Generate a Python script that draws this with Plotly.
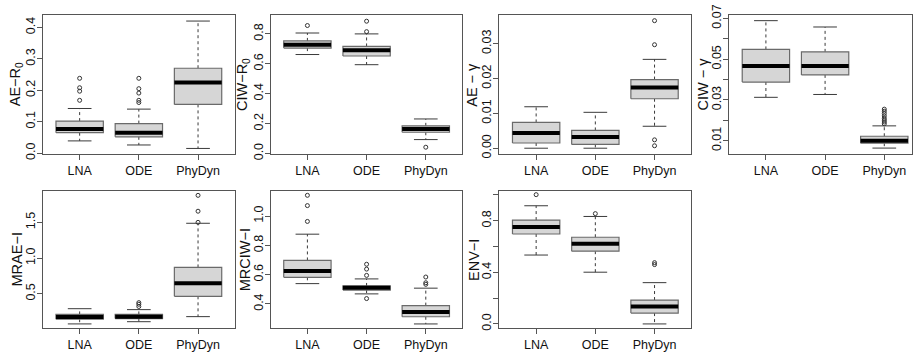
import plotly.graph_objects as go

methods = ["LNA", "ODE", "PhyDyn"]

# Five-number summaries per method (LNA, ODE, PhyDyn): lower whisker, Q1, median, Q3, upper whisker
ae_r0_lo = [0.039, 0.026, 0.015]
ae_r0_q1 = [0.065, 0.052, 0.155]
ae_r0_med = [0.077, 0.065, 0.225]
ae_r0_q3 = [0.102, 0.094, 0.270]
ae_r0_hi = [0.142, 0.140, 0.420]
ae_r0_out = [[0.168, 0.197, 0.208, 0.238], [0.161, 0.168, 0.191, 0.205, 0.238], []]

ciw_r0_lo = [0.662, 0.594, 0.093]
ciw_r0_q1 = [0.705, 0.652, 0.142]
ciw_r0_med = [0.727, 0.690, 0.163]
ciw_r0_q3 = [0.753, 0.716, 0.185]
ciw_r0_hi = [0.806, 0.800, 0.231]
ciw_r0_out = [[0.856], [0.815, 0.885], [0.042]]

ae_g_lo = [0.0000, 0.0000, 0.0063]
ae_g_q1 = [0.0015, 0.0011, 0.0142]
ae_g_med = [0.0044, 0.0032, 0.0174]
ae_g_q3 = [0.0074, 0.0051, 0.0197]
ae_g_hi = [0.0119, 0.0103, 0.0255]
ae_g_out = [[], [], [0.0007, 0.0024, 0.0297, 0.0366]]

ciw_g_lo = [0.0313, 0.0327, 0.0064]
ciw_g_q1 = [0.0388, 0.0423, 0.0088]
ciw_g_med = [0.0467, 0.0467, 0.0100]
ciw_g_q3 = [0.0548, 0.0536, 0.0122]
ciw_g_hi = [0.0689, 0.0658, 0.0173]
ciw_g_out = [[], [], [0.0183, 0.0192, 0.0201, 0.0210, 0.0222, 0.0234, 0.0245, 0.0255]]

mrae_lo = [0.078, 0.109, 0.180]
mrae_q1 = [0.144, 0.153, 0.464]
mrae_med = [0.176, 0.180, 0.647]
mrae_q3 = [0.211, 0.211, 0.869]
mrae_hi = [0.291, 0.278, 1.487]
mrae_out = [[], [0.322, 0.353, 0.376], [1.500, 1.656, 1.878]]

mrciw_lo = [0.539, 0.469, 0.264]
mrciw_q1 = [0.582, 0.495, 0.313]
mrciw_med = [0.625, 0.510, 0.346]
mrciw_q3 = [0.697, 0.523, 0.389]
mrciw_hi = [0.876, 0.571, 0.508]
mrciw_out = [[0.963, 1.071, 1.141], [0.437, 0.595, 0.638, 0.671], [0.534, 0.545, 0.584]]

env_lo = [0.534, 0.401, 0.000]
env_q1 = [0.697, 0.564, 0.084]
env_med = [0.751, 0.621, 0.135]
env_q3 = [0.805, 0.672, 0.185]
env_hi = [0.916, 0.833, 0.320]
env_out = [[1.002], [0.855], [0.460, 0.475]]

# Axis titles, labelled y ticks and unlabelled y ticks
titles = ["AE\u2212R<sub>0</sub>", "CIW\u2212R<sub>0</sub>", "AE \u2212 \u03b3", "CIW \u2212 \u03b3",
          "MRAE\u2212I", "MRCIW\u2212I", "ENV\u2212I"]
ytick_vals = [
    [0.0, 0.1, 0.2, 0.3, 0.4],
    [0.0, 0.2, 0.4, 0.6, 0.8],
    [0.00, 0.01, 0.02, 0.03],
    [0.01, 0.03, 0.05, 0.07],
    [0.5, 1.0, 1.5],
    [0.4, 0.6, 0.8, 1.0],
    [0.0, 0.4, 0.8],
]
ytick_text = [
    ["0.0", "0.1", "0.2", "0.3", "0.4"],
    ["0.0", "0.2", "0.4", "0.6", "0.8"],
    ["0.00", "0.01", "0.02", "0.03"],
    ["0.01", "0.03", "0.05", "0.07"],
    ["0.5", "1.0", "1.5"],
    ["0.4", "0.6", "0.8", "1.0"],
    ["0.0", "0.4", "0.8"],
]
ytick_minor = [[], [], [], [0.02, 0.04, 0.06], [], [], [0.2, 0.6, 1.0]]

panels = [
    (ae_r0_lo, ae_r0_q1, ae_r0_med, ae_r0_q3, ae_r0_hi, ae_r0_out),
    (ciw_r0_lo, ciw_r0_q1, ciw_r0_med, ciw_r0_q3, ciw_r0_hi, ciw_r0_out),
    (ae_g_lo, ae_g_q1, ae_g_med, ae_g_q3, ae_g_hi, ae_g_out),
    (ciw_g_lo, ciw_g_q1, ciw_g_med, ciw_g_q3, ciw_g_hi, ciw_g_out),
    (mrae_lo, mrae_q1, mrae_med, mrae_q3, mrae_hi, mrae_out),
    (mrciw_lo, mrciw_q1, mrciw_med, mrciw_q3, mrciw_hi, mrciw_out),
    (env_lo, env_q1, env_med, env_q3, env_hi, env_out),
]

# ---- layout geometry (pixels in a 913 x 356 canvas) ----
W, H = 913, 356
col_left = [43, 271, 500, 730]
plot_w = 192
rows = [(5, 151), (190, 334)]
y_ranges = [
    [-0.002, 0.440],
    [-0.002, 0.928],
    [-0.0016, 0.0383],
    [0.0036, 0.0718],
    [0.02, 1.94],
    [0.236, 1.171],
    [-0.032, 1.031],
]
title_x = [16, 244, 473, 704, 18, 246, 475]
x_lo, x_hi = 0.38, 3.62
px_per_unit = plot_w / (x_hi - x_lo)

FONT = "Liberation Sans, Arial, Helvetica, sans-serif"
LINE = "#555555"
BOX_EDGE = "#6a6a6a"
WHISK = "#3a3a3a"
FILL = "#d6d6d6"
HALF = 0.4
CAP = 0.2

fig = go.Figure()
layout = dict(
    width=W, height=H, margin=dict(l=0, r=0, t=0, b=0),
    paper_bgcolor="white", plot_bgcolor="white", showlegend=False,
    font=dict(family=FONT, size=12.5, color="#111111"),
)
annotations = []

for k, (lo, q1, med, q3, hi, outs) in enumerate(panels):
    n = k + 1
    r, c = divmod(k, 4)
    xa = "x" if n == 1 else f"x{n}"
    ya = "y" if n == 1 else f"y{n}"
    left = col_left[c]
    right = min(left + plot_w, W)
    xr = [x_lo, x_lo + (right - left) / px_per_unit]
    top, bot = rows[r]
    ydom = [1 - bot / H, 1 - top / H]

    for i in range(3):
        xc = i + 1
        # whiskers (dashed)
        fig.add_trace(go.Scatter(
            x=[xc, xc, None, xc, xc], y=[q3[i], hi[i], None, q1[i], lo[i]],
            mode="lines", line=dict(color=WHISK, width=1, dash="3px,3px"),
            xaxis=xa, yaxis=ya, hoverinfo="skip"))
        # whisker caps
        fig.add_trace(go.Scatter(
            x=[xc - CAP, xc + CAP, None, xc - CAP, xc + CAP], y=[hi[i], hi[i], None, lo[i], lo[i]],
            mode="lines", line=dict(color=WHISK, width=1),
            xaxis=xa, yaxis=ya, hoverinfo="skip"))
        # box
        fig.add_trace(go.Scatter(
            x=[xc - HALF, xc + HALF, xc + HALF, xc - HALF, xc - HALF],
            y=[q1[i], q1[i], q3[i], q3[i], q1[i]],
            mode="lines", fill="toself", fillcolor=FILL,
            line=dict(color=BOX_EDGE, width=1.2),
            xaxis=xa, yaxis=ya, hoverinfo="skip"))
        # median
        fig.add_trace(go.Scatter(
            x=[xc - HALF, xc + HALF], y=[med[i], med[i]],
            mode="lines", line=dict(color="black", width=4),
            xaxis=xa, yaxis=ya, hoverinfo="skip"))
        # outliers
        if outs[i]:
            fig.add_trace(go.Scatter(
                x=[xc] * len(outs[i]), y=outs[i], mode="markers",
                marker=dict(symbol="circle-open", size=4, color="#333333", line=dict(width=1)),
                xaxis=xa, yaxis=ya, hoverinfo="skip"))

    layout["xaxis" if n == 1 else f"xaxis{n}"] = dict(
        domain=[left / W, right / W], range=xr, anchor=ya,
        tickvals=[1, 2, 3], ticktext=methods, ticks="outside", ticklen=5,
        tickcolor=LINE, showline=True, linecolor=LINE, linewidth=1, mirror=True,
        showgrid=False, zeroline=False, ticklabelstandoff=0,
        tickfont=dict(family=FONT, size=12.5, color="#111111"),
    )
    yax = dict(
        domain=ydom, range=y_ranges[k], anchor=xa,
        tickvals=ytick_vals[k], ticktext=ytick_text[k], tickangle=-90,
        ticks="outside", ticklen=5, tickcolor=LINE,
        showline=True, linecolor=LINE, linewidth=1, mirror=True,
        showgrid=False, zeroline=False, ticklabelstandoff=-3,
        ticklabeloverflow="allow",
        tickfont=dict(family=FONT, size=12.5, color="#111111"),
    )
    if ytick_minor[k]:
        yax["minor"] = dict(tickvals=ytick_minor[k], ticks="outside", ticklen=5,
                            tickcolor=LINE, showgrid=False)
    layout["yaxis" if n == 1 else f"yaxis{n}"] = yax
    annotations.append(dict(
        text=titles[k], xref="paper", yref="paper",
        x=title_x[k] / W, y=(ydom[0] + ydom[1]) / 2,
        xanchor="center", yanchor="middle", textangle=-90, showarrow=False,
        font=dict(family=FONT, size=14.5, color="#111111"),
    ))

layout["annotations"] = annotations
fig.update_layout(**layout)
fig.write_html("out.html")
